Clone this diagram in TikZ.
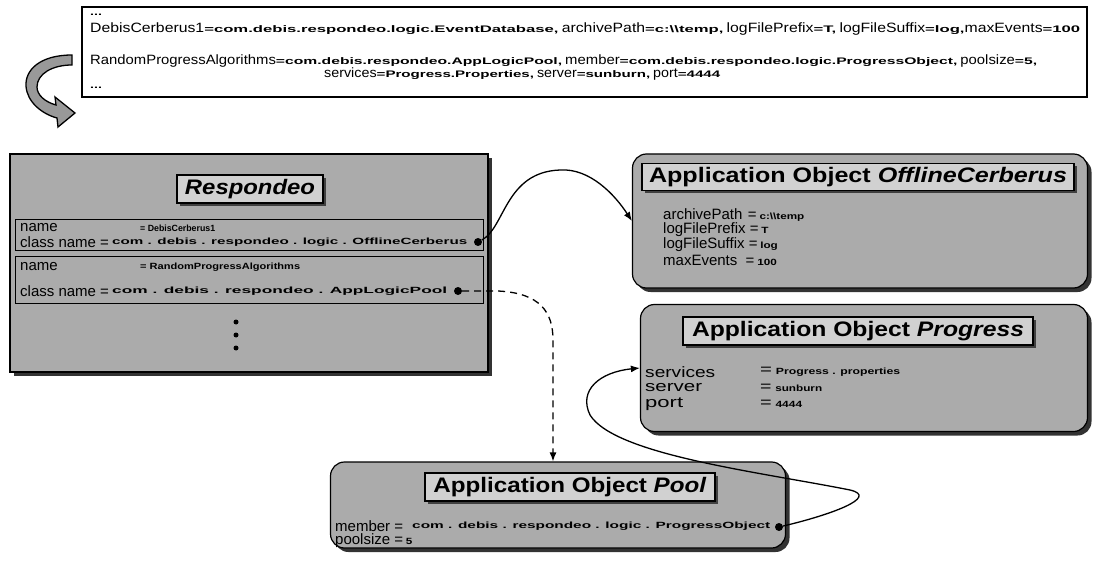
\documentclass[tikz,border=0pt]{standalone}
\usepackage{graphicx}
\usepackage{fontspec}
\setmainfont{Liberation Sans}
\usetikzlibrary{arrows.meta,shadows}
\newcommand\fitw[2]{\resizebox{#1}{\height}{#2}}
\newcommand\kb[1]{{\fontsize{13.5}{13.5}\selectfont #1}}
\newcommand\sv[1]{\scalebox{1.5}[1]{\fontsize{9.5}{9.5}\selectfont\bfseries #1}}
\newcommand\ka[1]{{\fontsize{15}{15}\selectfont #1}}
\newcommand\va[1]{{\fontsize{9}{9}\selectfont\bfseries #1}}
\newcommand\ttl[1]{{\fontsize{21}{21}\selectfont\bfseries #1}}
\begin{document}
\begin{tikzpicture}[x=1pt,y=-1pt,
  panel/.style={draw=black, line width=1.2pt, fill=black!33, inner sep=0pt,
     drop shadow={shadow xshift=4pt,shadow yshift=-4pt,fill=black!80,opacity=1}},
  rpanel/.style={panel, rounded corners=14pt},
  titlebox/.style={draw=black, line width=1.2pt, fill=black!18, inner sep=0pt,
     drop shadow={shadow xshift=3pt,shadow yshift=-3pt,fill=black!75,opacity=1}},
  inbox/.style={draw=black, line width=1pt, fill=black!33, inner sep=0pt},
  txt/.style={anchor=west, inner sep=0pt},
  pin/.style={circle, fill=black, inner sep=0pt, minimum size=8pt},
  vdot/.style={circle, fill=black, inner sep=0pt, minimum size=5pt},
  conn/.style={line width=1.3pt, -{Latex[length=9pt,width=7pt]}},
]
\useasboundingbox (0,0) rectangle (1094,561);
% top file box
\node[draw=black, line width=1.4pt, fill=white, inner sep=0pt, minimum width=1005pt, minimum height=90pt] (file) at (584.5,52) {};
\node[txt] (f0) at (90,15) {\sv{...}};
\node[txt] (f1) at (90,29) {\fitw{990pt}{\kb{DebisCerberus1}\sv{=com.debis.respondeo.logic.EventDatabase,} \kb{archivePath}\sv{=c:\textbackslash\textbackslash temp,} \kb{logFilePrefix}\sv{=T,} \kb{logFileSuffix}\sv{=log,}\kb{maxEvents}\sv{=100}}};
\node[txt] (f2) at (90,61) {\fitw{947pt}{\kb{RandomProgressAlgorithms}\sv{=com.debis.respondeo.AppLogicPool,} \kb{member}\sv{=com.debis.respondeo.logic.ProgressObject,} \kb{poolsize}\sv{=5,}}};
\node[txt] (f3) at (324,74) {\fitw{396pt}{\kb{services}\sv{=Progress.Properties,} \kb{server}\sv{=sunburn,} \kb{port}\sv{=4444}}};
\node[txt] (f4) at (90,88) {\sv{...}};
% curved block arrow
\draw[line width=1.3pt, fill=black!40] (72,55) .. controls (40,55) and (25,70) .. (26,86)
  .. controls (27,102) and (42,114) .. (57,118) -- (58,127) -- (75,113) -- (55,97) -- (56,105)
  .. controls (45,102) and (37,95) .. (37,87) .. controls (37,74) and (52,65) .. (72,65) -- cycle;
% Respondeo
\node[panel, minimum width=478pt, minimum height=218pt] (resp) at (249,263) {};
\node[titlebox, minimum width=146pt, minimum height=28pt] (resptitle) at (250,189) {\fitw{130pt}{\ttl{\itshape Respondeo}}};
\node[inbox, minimum width=468pt, minimum height=31pt] (e1) at (249,235) {};
\node[inbox, minimum width=468pt, minimum height=46pt] (e2) at (249,280) {};
\node[txt] (e1a) at (20,228) {\ka{name}};
\node[txt] (e1b) at (140,228) {\fitw{75pt}{\va{= DebisCerberus1}}};
\node[txt] (e1c) at (20,242) {\ka{class name =}};
\node[txt] (e1d) at (112,242) {\fitw{355pt}{\va{com . debis . respondeo . logic . OfflineCerberus}}};
\node[pin] (p1) at (478,242) {};
\node[txt] (e2a) at (20,267) {\ka{name}};
\node[txt] (e2b) at (140,267) {\fitw{160pt}{\va{= RandomProgressAlgorithms}}};
\node[txt] (e2c) at (20,291) {\ka{class name =}};
\node[txt] (e2d) at (112,291) {\fitw{335pt}{\va{com . debis . respondeo . AppLogicPool}}};
\node[pin] (p2) at (458,291) {};
\node[vdot] (v1) at (236,322) {};
\node[vdot] (v2) at (236,335) {};
\node[vdot] (v3) at (236,348) {};
% OfflineCerberus
\node[rpanel, minimum width=455pt, minimum height=134pt] (oc) at (860,221) {};
\node[titlebox, minimum width=432pt, minimum height=27pt] (octitle) at (858,177) {\fitw{418pt}{\ttl{Application Object \textit{OfflineCerberus}}}};
\node[txt] (oc1) at (663,215) {\ka{archivePath} \ \ka{=} \scalebox{1.3}[1]{\va{c:\textbackslash\textbackslash temp}}};
\node[txt] (oc2) at (663,230) {\ka{logFilePrefix =} \scalebox{1.3}[1]{\va{T}}};
\node[txt] (oc3) at (663,245) {\ka{logFileSuffix =} \scalebox{1.3}[1]{\va{log}}};
\node[txt] (oc4) at (663,260) {\ka{maxEvents} \ \ \ka{=} \scalebox{1.3}[1]{\va{100}}};
% Progress
\node[rpanel, minimum width=447pt, minimum height=127pt] (pr) at (864,368) {};
\node[titlebox, minimum width=350pt, minimum height=28pt] (prtitle) at (858,331) {\fitw{332pt}{\ttl{Application Object \textit{Progress}}}};
\node[txt] (pr1) at (645,372) {\fitw{70pt}{\ka{services}}};
\node[txt] (pr2) at (645,388) {\fitw{57pt}{\ka{server}}};
\node[txt] (pr3) at (645,404) {\fitw{38pt}{\ka{port}}};
\node[txt] (pr1v) at (760,372) {\fitw{140pt}{\ka{=} \va{Progress . properties}}};
\node[txt] (pr2v) at (760,388) {\fitw{62pt}{\ka{=} \va{sunburn}}};
\node[txt] (pr3v) at (760,404) {\fitw{42pt}{\ka{=} \va{4444}}};
% Pool
\node[rpanel, minimum width=455pt, minimum height=86pt] (pool) at (558,505) {};
\node[titlebox, minimum width=290pt, minimum height=28pt] (pooltitle) at (570,487) {\fitw{273pt}{\ttl{Application Object \textit{Pool}}}};
\node[txt] (po1) at (335,526) {\ka{member =}};
\node[txt] (po1v) at (412,526) {\fitw{358pt}{\va{com . debis . respondeo . logic . ProgressObject}}};
\node[txt] (po2) at (335,541) {\ka{poolsize =} \scalebox{1.3}[1]{\va{5}}};
\node[pin] (p3) at (779,527) {};
% connectors
\draw[conn] (p1) .. controls (505,228) and (505,172) .. (560,170) .. controls (590,168) and (615,195) .. (oc.west);
\draw[conn, dashed, dash pattern=on 7pt off 5pt] (p2) -- (498,291) .. controls (540,293) and (553,312) .. (553,340) -- ([xshift=-5pt]pool.north);
\draw[conn] (p3) .. controls (830,515) and (880,497) .. (850,490) .. controls (760,472) and (615,455) .. (590,415) .. controls (578,390) and (600,372) .. (pr.west);
\end{tikzpicture}
\end{document}
